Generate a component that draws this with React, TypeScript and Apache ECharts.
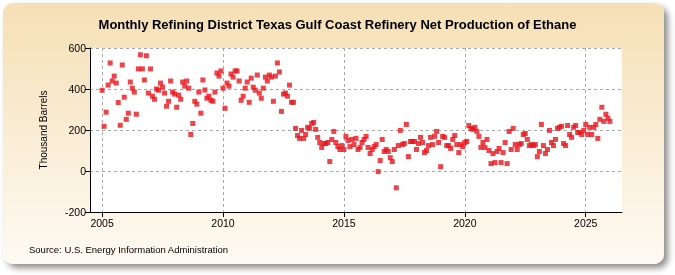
import React, { useEffect, useRef } from 'react';
import * as echarts from 'echarts';

const titleText = 'Monthly Refining District Texas Gulf Coast Refinery Net Production of Ethane';
const sourceText = 'Source: U.S. Energy Information Administration';
const yAxisName = 'Thousand Barrels';

const startYear = 2005;
const v2005 = [394, 218, 287, 419, 527, 439, 463, 429, 334, 223, 517, 360];
const v2006 = [252, 282, 434, 404, 385, 277, 498, 567, 498, 444, 562, 380];
const v2007 = [498, 365, 350, 400, 394, 429, 409, 380, 316, 340, 439, 385];
const v2008 = [375, 311, 370, 350, 434, 414, 439, 404, 178, 232, 340, 326];
const v2009 = [385, 282, 444, 395, 355, 365, 345, 340, 385, 478, 463, 488];
const v2010 = [404, 306, 429, 414, 473, 458, 488, 488, 439, 345, 365, 404];
const v2011 = [434, 335, 453, 409, 394, 468, 380, 355, 404, 458, 439, 468];
const v2012 = [458, 340, 463, 527, 483, 291, 375, 380, 365, 419, 335, 335];
const v2013 = [208, 173, 159, 198, 159, 178, 213, 208, 232, 237, 203, 164];
const v2014 = [139, 115, 134, 134, 139, 46, 154, 193, 139, 119, 105, 124];
const v2015 = [105, 169, 149, 119, 154, 129, 159, 105, 115, 139, 154, 169];
const v2016 = [115, 85, 105, 119, 129, -3, 51, 154, 95, 105, 95, 65];
const v2017 = [46, 105, -82, 124, 198, 129, 134, 227, 70, 144, 144, 144];
const v2018 = [105, 134, 164, 139, 90, 100, 124, 164, 129, 169, 193, 139];
const v2019 = [21, 169, 164, 124, 124, 110, 154, 173, 129, 90, 129, 119];
const v2020 = [139, 144, 222, 208, 203, 213, 193, 169, 115, 139, 115, 154];
const v2021 = [100, 36, 85, 41, 95, 110, 41, 90, 139, 36, 193, 105];
const v2022 = [208, 129, 105, 129, 134, 178, 183, 154, 124, 129, 124, 129];
const v2023 = [70, 95, 227, 124, 85, 105, 198, 139, 124, 154, 208, 213];
const v2024 = [218, 134, 124, 222, 178, 164, 213, 222, 188, 188, 178, 198];
const v2025 = [227, 178, 213, 178, 213, 227, 159, 252, 311, 242, 277, 257];
const v2026 = [242];

const yearBlocks = [
  v2005, v2006, v2007, v2008, v2009, v2010, v2011, v2012, v2013, v2014, v2015,
  v2016, v2017, v2018, v2019, v2020, v2021, v2022, v2023, v2024, v2025, v2026,
];

const xTickYears = [2005, 2010, 2015, 2020, 2025];

export default function App() {
  const ref = useRef<HTMLDivElement>(null);
  useEffect(() => {
    const chart = echarts.init(ref.current as HTMLDivElement, null, { renderer: 'svg' });
    const data: number[][] = [];
    yearBlocks.forEach((arr, yi) => {
      arr.forEach((v, m) => data.push([startYear + yi + m / 12, v]));
    });
    const font = 'Liberation Sans, Arial, sans-serif';
    chart.setOption({
      animation: false,
      textStyle: { fontFamily: font },
      graphic: [
        {
          type: 'rect',
          z: -100,
          silent: true,
          shape: { x: 3, y: 3, width: 661, height: 261, r: 10 },
          style: {
            fill: new echarts.graphic.LinearGradient(0, 0, 0, 1, [
              { offset: 0, color: '#f5dfb5' },
              { offset: 1, color: '#fefaf3' },
            ]),
            shadowBlur: 6,
            shadowOffsetX: 4,
            shadowOffsetY: 4,
            shadowColor: 'rgba(0,0,0,0.45)',
          },
        },
        {
          type: 'text',
          left: 29,
          top: 244,
          silent: true,
          style: { text: sourceText, fontSize: 9.5, fill: '#000', fontFamily: font },
        },
      ],
      title: {
        text: titleText,
        left: 'center',
        top: 13,
        textStyle: { fontSize: 13, fontWeight: 'bold', color: '#000', fontFamily: font },
      },
      grid: {
        left: 90,
        right: 53,
        top: 48,
        bottom: 63,
        show: true,
        backgroundColor: '#ffffff',
        borderWidth: 0,
      },
      xAxis: {
        type: 'value',
        min: 2004.5,
        max: 2026.5,
        axisLine: { show: true, onZero: false, lineStyle: { color: '#000', width: 1 } },
        axisTick: { show: true, customValues: xTickYears, length: 5, lineStyle: { color: '#000' } },
        axisLabel: {
          customValues: xTickYears,
          fontSize: 10.5,
          color: '#000',
          margin: 5,
          formatter: (v: number) => String(Math.round(v)),
        },
        splitLine: { show: true, lineStyle: { color: '#a8a8a8', type: [3, 3], width: 1 } },
      },
      yAxis: {
        type: 'value',
        min: -200,
        max: 600,
        interval: 200,
        name: yAxisName,
        nameLocation: 'middle',
        nameGap: 42,
        nameTextStyle: { fontSize: 10, color: '#000' },
        axisLine: { show: true, lineStyle: { color: '#000', width: 1 } },
        axisTick: { show: true, length: 5, lineStyle: { color: '#000' } },
        axisLabel: { fontSize: 10.5, color: '#000', margin: 4 },
        splitLine: { show: true, lineStyle: { color: '#a8a8a8', type: [3, 3], width: 1 } },
      },
      series: [
        {
          type: 'scatter',
          data,
          symbol: 'rect',
          symbolSize: 5,
          itemStyle: { color: '#e8141c' },
        },
      ],
    });
    return () => chart.dispose();
  }, []);
  return (
    <div
      ref={ref}
      style={{ position: 'fixed', left: 0, top: 0, width: 675, height: 275 }}
    />
  );
}
